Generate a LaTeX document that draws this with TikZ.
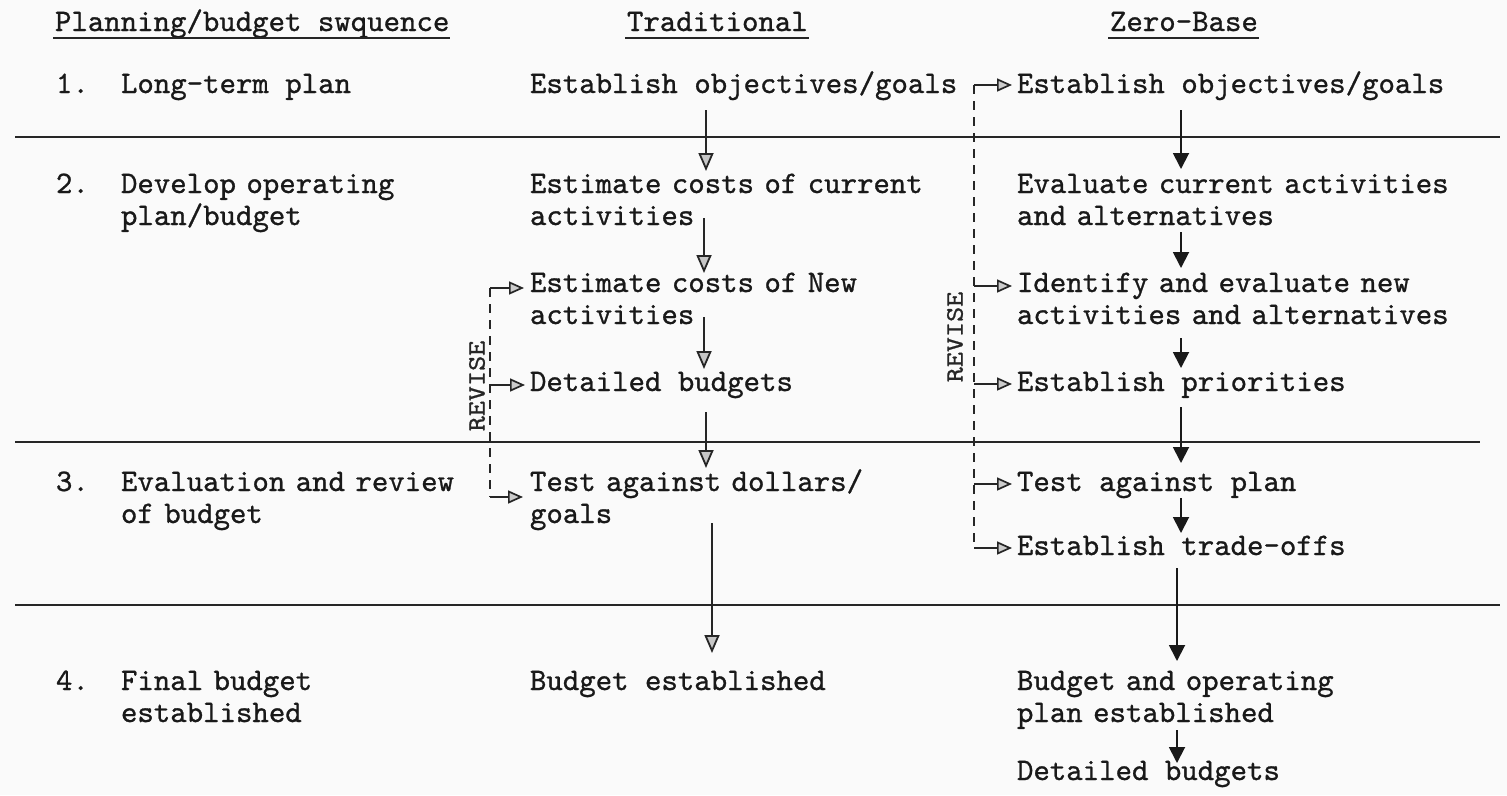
\documentclass[tikz,border=0pt]{standalone}
\usepackage{fontspec}
\usepackage{graphicx}
\usetikzlibrary{arrows.meta,calc}
\newfontfamily\twfont{lmmono10-regular}[Extension=.otf,FakeBold=0.9]
\begin{document}
\begin{tikzpicture}[x=1pt,y=-1pt,
  txt/.style={anchor=base west,inner sep=0pt,outer sep=0pt,text=black!90,
              font=\twfont\fontsize{31.3}{32}\selectfont},
  mtxt/.style={txt,text width=470pt,align=left},
  rulefill/.style={line width=2pt,black!85},
  hul/.style={line width=2.4pt,black!85},
  tarr/.style={line width=1.8pt,black!85,-{Triangle[length=18pt,width=15pt,fill=gray!45]}},
  zarr/.style={line width=1.9pt,black!90,-{Triangle[length=16pt,width=16pt]}},
  rev/.style={line width=1.7pt,black!85,dash pattern=on 9pt off 7pt},
  revarr/.style={line width=1.7pt,black!85,-{Triangle[length=15pt,width=13pt,fill=gray!40]}},
  revlbl/.style={inner sep=0pt,rotate=90,text=black!85,font=\twfont\fontsize{25}{25}\selectfont},
]
\useasboundingbox (0,0) rectangle (1507,795);
\fill[gray!4] (0,0) rectangle (1507,795);

% headers
\node[txt] (h1) at (55,31) {Planning/budget swquence};
\node[txt] (h2) at (627,31) {Traditional};
\node[txt] (h3) at (1110,31) {Zero-Base};
\foreach \h in {h1,h2,h3}
  \draw[hul] ($(\h.base west)+(-2,7)$) -- ($(\h.base east)+(1,7)$);

% row 1
\node[txt] (n1) at (56,93) {1.};
\node[txt] (l1) at (121,93) {Long-term plan};
\node[txt] (t1) at (530,93) {Establish objectives/goals};
\node[txt] (z1) at (1017,93) {Establish objectives/goals};

% row 2
\node[txt] (n2) at (56,193) {2.};
\node[mtxt] (l2) at (121,193) {Develop operating\\plan/budget};
\node[mtxt] (t2) at (530,193) {Estimate costs of current\\activities};
\node[mtxt] (z2) at (1017,193) {Evaluate current activities\\and alternatives};
\node[mtxt] (t3) at (530,292) {Estimate costs of New\\activities};
\node[mtxt] (z3) at (1017,292) {Identify and evaluate new\\activities and alternatives};
\node[txt] (t4) at (530,391) {Detailed budgets};
\node[txt] (z4) at (1017,391) {Establish priorities};

% row 3
\node[txt] (n3) at (56,491) {3.};
\node[mtxt] (l3) at (121,491) {Evaluation and review\\of budget};
\node[mtxt] (t5) at (530,491) {Test against dollars/\\goals};
\node[txt] (z5) at (1017,491) {Test against plan};
\node[txt] (z6) at (1017,555) {Establish trade-offs};

% row 4
\node[txt] (n4) at (56,690) {4.};
\node[mtxt] (l4) at (121,690) {Final budget\\established};
\node[txt] (t6) at (530,690) {Budget established};
\node[mtxt] (z7) at (1017,690) {Budget and operating\\plan established};
\node[txt] (z8) at (1017,780) {Detailed budgets};

% horizontal rules
\coordinate (r1a) at (15,137);  \coordinate (r1b) at (1500,137);
\coordinate (r2a) at (15,442);  \coordinate (r2b) at (1480,442);
\coordinate (r3a) at (15,605);  \coordinate (r3b) at (1500,605);
\draw[rulefill] (r1a) -- (r1b);
\draw[rulefill] (r2a) -- (r2b);
\draw[rulefill] (r3a) -- (r3b);

% column x references
\coordinate (ta) at (706,0);
\coordinate (tb) at (704,0);
\coordinate (tc) at (712,0);
\coordinate (za) at (1181,0);
\coordinate (zb) at (1177,0);

% traditional flow
\draw[tarr] ($(t1.base -| ta)+(0,17)$) -- ($(t2.base -| ta)+(0,-22)$);
\draw[tarr] ($(t2.base -| tb)+(0,25)$) -- ($(t3.base -| tb)+(0,-19)$);
\draw[tarr] ($(t3.base -| tb)+(0,25)$) -- ($(t4.base -| tb)+(0,-22)$);
\draw[tarr] ($(t4.base -| ta)+(0,21)$) -- ($(t5.base -| ta)+(0,-23)$);
\draw[tarr] ($(t5.base -| tc)+(0,32)$) -- ($(t6.base -| tc)+(0,-37)$);

% zero-base flow
\draw[zarr] ($(z1.base -| za)+(0,17)$) -- ($(z2.base -| za)+(0,-24)$);
\draw[zarr] ($(z2.base -| za)+(0,39)$) -- ($(z3.base -| za)+(0,-24)$);
\draw[zarr] ($(z3.base -| za)+(0,46)$) -- ($(z4.base -| za)+(0,-23)$);
\draw[zarr] ($(z4.base -| za)+(0,16)$) -- ($(z5.base -| za)+(0,-28)$);
\draw[zarr] ($(z5.base -| za)+(0,7)$) -- ($(z6.base -| za)+(0,-22)$);
\draw[zarr] ($(z6.base -| zb)+(0,13)$) -- ($(z7.base -| zb)+(0,-29)$);
\draw[zarr] ($(z7.base -| zb)+(0,40)$) -- ($(z8.base -| zb)+(0,-17)$);

% traditional revise loop
\coordinate (tr1) at ($(t3.base west)+(-40,-4)$);
\coordinate (tr2) at ($(t4.base west)+(-40,-6)$);
\coordinate (tr3) at ($(t5.base west)+(-40,6)$);
\draw[rev] (tr1) -- (tr3);
\draw[revarr] (tr1) -- ($(t3.base west)+(-6,-4)$);
\draw[revarr] (tr2) -- ($(t4.base west)+(-5,-6)$);
\draw[revarr] (tr3) -- ($(t5.base west)+(-7,6)$);
\node[revlbl] (rv1) at ($(t4.base west)+(-53,-5)$) {\scalebox{1.15}[1]{REVISE}};

% zero-base revise loop
\coordinate (zr1) at ($(z1.base west)+(-43,-8)$);
\coordinate (zr2) at ($(z3.base west)+(-43,-6)$);
\coordinate (zr3) at ($(z4.base west)+(-43,-7)$);
\coordinate (zr4) at ($(z5.base west)+(-43,-7)$);
\coordinate (zr5) at ($(z6.base west)+(-43,-7)$);
\draw[rev] (zr1) -- (zr5);
\draw[revarr] (zr1) -- ($(z1.base west)+(-5,-8)$);
\draw[revarr] (zr2) -- ($(z3.base west)+(-5,-6)$);
\draw[revarr] (zr3) -- ($(z4.base west)+(-5,-7)$);
\draw[revarr] (zr4) -- ($(z5.base west)+(-5,-7)$);
\draw[revarr] (zr5) -- ($(z6.base west)+(-5,-7)$);
\node[revlbl] (rv2) at ($(z3.base west)+(-62,45)$) {\scalebox{1.15}[1]{REVISE}};
\end{tikzpicture}
\end{document}
